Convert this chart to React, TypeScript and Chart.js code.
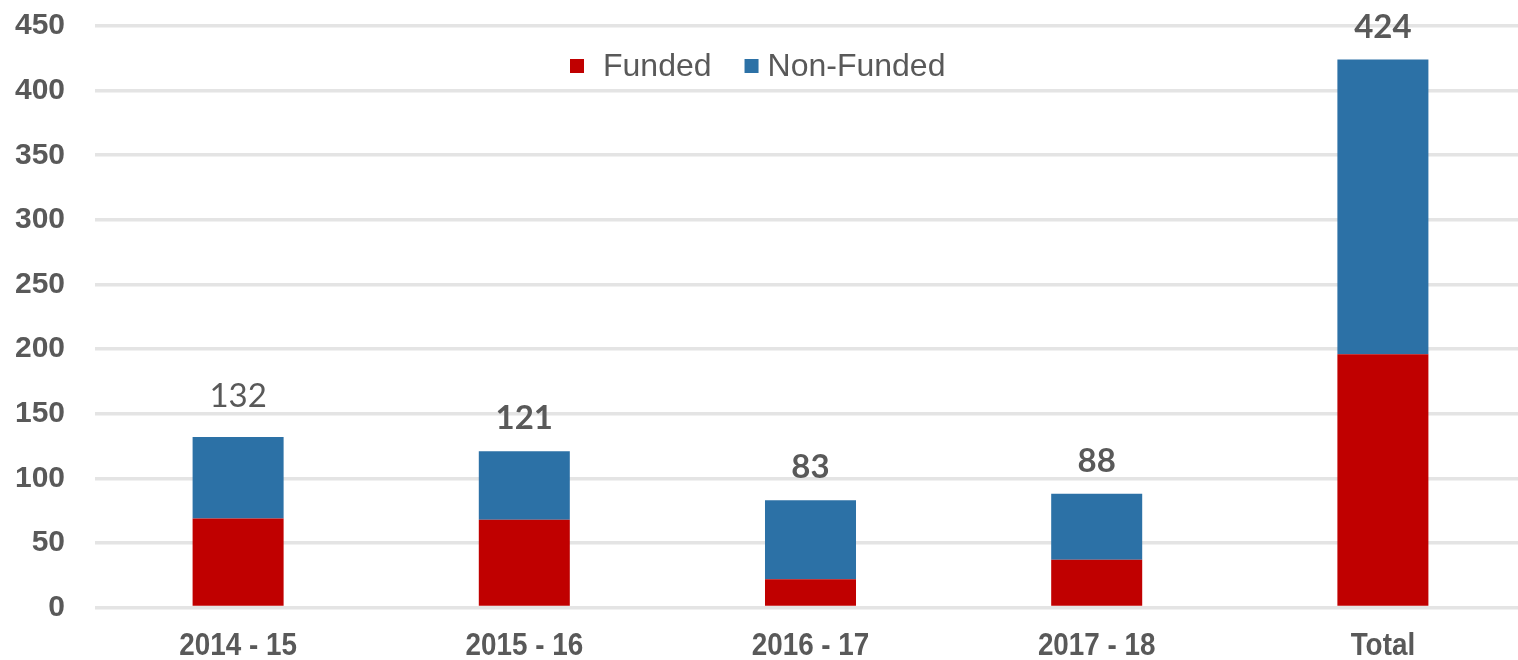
import React, { useEffect, useRef } from "react";
import { Chart, registerables } from "chart.js";

Chart.register(...registerables);

const categories = ["2014 - 15", "2015 - 16", "2016 - 17", "2017 - 18", "Total"];
const funded = [69, 68, 22, 37, 196];
const nonFunded = [63, 53, 61, 51, 228];
const totals = [132, 121, 83, 88, 424];
const seriesNames = ["Funded", "Non-Funded"];
const seriesColors = ["#C00000", "#2C71A6"];
const yMax = 450;
const yStep = 50;

const textColor = "#595959";
const SHIFT = 22;

const totalLabelsPlugin = {
  id: "totalLabels",
  afterDatasetsDraw(chart: any) {
    const ctx = chart.ctx;
    const meta = chart.getDatasetMeta(1);
    ctx.save();
    ctx.fillStyle = textColor;
    ctx.textAlign = "center";
    ctx.textBaseline = "alphabetic";
    meta.data.forEach((bar: any, i: number) => {
      ctx.font = (i === 0 ? "400" : "700") + " 33px Lato, 'Open Sans', sans-serif";
      ctx.fillText(String(totals[i]), bar.x, bar.y - (i === 0 ? 30 : 22));
    });
    ctx.restore();
  },
};

const xLabelsPlugin = {
  id: "xLabels",
  afterDraw(chart: any) {
    const ctx = chart.ctx;
    const xs = chart.scales.x;
    ctx.save();
    ctx.fillStyle = textColor;
    ctx.textAlign = "center";
    ctx.textBaseline = "alphabetic";
    ctx.font = "700 32px 'Liberation Sans', Arial, sans-serif";
    categories.forEach((c, i) => {
      const x = xs.getPixelForTick(i);
      ctx.save();
      ctx.translate(x, chart.chartArea.bottom + 47);
      ctx.scale(0.87, 1);
      ctx.fillText(c, 0, 0);
      ctx.restore();
    });
    ctx.restore();
  },
};

const customLegendPlugin = {
  id: "customLegend",
  afterDraw(chart: any) {
    const ctx = chart.ctx;
    ctx.save();
    ctx.font = "400 32px 'Liberation Sans', Arial, sans-serif";
    ctx.textBaseline = "middle";
    ctx.textAlign = "left";
    const cy = 66 + SHIFT;
    let x = 570;
    seriesNames.forEach((name, i) => {
      ctx.fillStyle = seriesColors[i];
      ctx.fillRect(x, cy - 7, 14, 14);
      x += i === 0 ? 33 : 23;
      ctx.fillStyle = textColor;
      ctx.fillText(name, x, cy + 1);
      x += ctx.measureText(name).width + 33;
    });
    ctx.restore();
  },
};

export default function App() {
  const canvasRef = useRef<HTMLCanvasElement | null>(null);

  useEffect(() => {
    if (!canvasRef.current) return;
    const chart = new Chart(canvasRef.current, {
      type: "bar",
      data: {
        labels: categories,
        datasets: [
          {
            label: seriesNames[0],
            data: funded,
            backgroundColor: seriesColors[0],
            barPercentage: 0.318,
            categoryPercentage: 1,
          },
          {
            label: seriesNames[1],
            data: nonFunded,
            backgroundColor: seriesColors[1],
            barPercentage: 0.318,
            categoryPercentage: 1,
          },
        ],
      },
      options: {
        animation: false,
        responsive: false,
        maintainAspectRatio: false,
        layout: { padding: { top: 0, right: 0, bottom: -26, left: 0 } },
        plugins: {
          legend: { display: false },
          tooltip: { enabled: false },
        },
        scales: {
          x: {
            stacked: true,
            grid: { display: false, drawTicks: false },
            border: { display: false },
            ticks: {
              color: "rgba(0,0,0,0)",
              padding: 20,
              font: { family: "'Liberation Sans', Arial", size: 32, weight: "bold" },
            },
          },
          y: {
            stacked: true,
            min: 0,
            max: yMax,
            grid: { color: "#E4E4E4", lineWidth: 3.5, drawTicks: false },
            border: { display: false },
            ticks: {
              stepSize: yStep,
              color: textColor,
              padding: 30,
              font: { family: "'Liberation Sans', Arial", size: 30, weight: "bold" },
            },
            afterFit(scale: any) {
              scale.width = 95;
            },
          },
        },
      },
      plugins: [totalLabelsPlugin, xLabelsPlugin, customLegendPlugin],
    });
    return () => chart.destroy();
  }, []);

  return (
    <div style={{ position: "absolute", left: 0, top: 0, width: 1518, height: 660, overflow: "hidden", background: "#fff" }}>
      <canvas
        ref={canvasRef}
        width={1526}
        height={660 + SHIFT}
        style={{ display: "block", position: "absolute", left: 0, top: -SHIFT }}
      />
    </div>
  );
}
